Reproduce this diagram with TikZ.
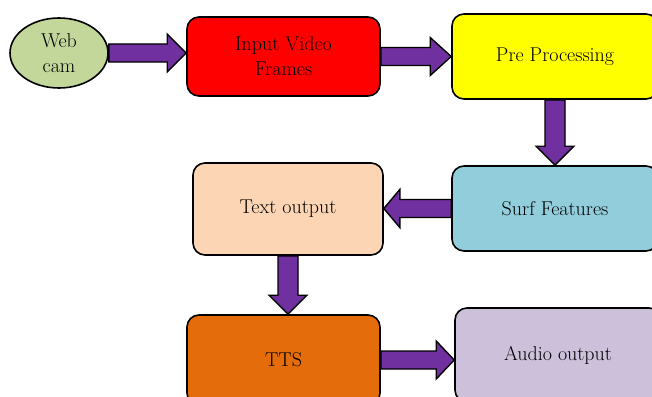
\documentclass[tikz,border=0pt]{standalone}
\usepackage{amsmath}
\usepackage{tikz}
\usetikzlibrary{shapes.geometric,backgrounds}

\definecolor{camgreen}{RGB}{196,215,155}
\definecolor{prered}{RGB}{255,0,0}
\definecolor{preyellow}{RGB}{255,255,0}
\definecolor{surfblue}{RGB}{146,205,220}
\definecolor{textpeach}{RGB}{252,213,180}
\definecolor{ttsorange}{RGB}{228,108,10}
\definecolor{audiolilac}{RGB}{204,192,218}
\definecolor{arrowpurple}{RGB}{112,48,160}

% horizontal block arrow: start, target anchor, signed head length
\newcommand{\harrow}[3]{%
  \coordinate (tip) at (#1 -| #2);
  \draw[bigarrow] ([yshift=9]#1) -- ([xshift=#3,yshift=9]tip) -- ([xshift=#3,yshift=19]tip) -- (tip)
    -- ([xshift=#3,yshift=-19]tip) -- ([xshift=#3,yshift=-9]tip) -- ([yshift=-9]#1) -- cycle;
}
% vertical block arrow (pointing down)
\newcommand{\varrow}[2]{%
  \coordinate (tip) at (#1 |- #2);
  \draw[bigarrow] ([xshift=-10]#1) -- ([xshift=-10,yshift=19]tip) -- ([xshift=-19,yshift=19]tip) -- (tip)
    -- ([xshift=19,yshift=19]tip) -- ([xshift=10,yshift=19]tip) -- ([xshift=10]#1) -- cycle;
}

\begin{document}
\begin{tikzpicture}[x=1pt,y=-1pt,
  block/.style={draw=black,line width=1.6pt,rounded corners=12pt,align=center,
    font=\fontsize{20}{25}\selectfont,text=black},
  bigarrow/.style={fill=arrowpurple,draw=black,line width=1.4pt,line join=miter}]
\useasboundingbox (0,0) rectangle (652,396);
% Draw the blocks
\node[block,ellipse,fill=camgreen,minimum width=98pt,minimum height=70pt,inner sep=0pt] (webcam) at (59,53) {Web\\cam};
\node[block,fill=prered,minimum width=193pt,minimum height=79pt] (input) at (283.5,56.5) {Input Video\\Frames};
\node[block,fill=preyellow,minimum width=206pt,minimum height=85pt] (pre) at (555,56.5) {Pre Processing};
\node[block,fill=surfblue,minimum width=206pt,minimum height=85pt] (surf) at (555,208.5) {Surf Features};
\node[block,fill=textpeach,minimum width=190pt,minimum height=92pt] (text) at (288,209) {Text output};
\node[block,fill=ttsorange,minimum width=193pt,minimum height=90pt] (tts) at (283.5,360) {TTS};
\node[block,fill=audiolilac,minimum width=206pt,minimum height=94pt] (audio) at (558,355) {Audio output};
% Draw the arrows behind the blocks
\begin{scope}[on background layer]
\harrow{webcam.east}{input.west}{-19}
\harrow{input.east}{pre.west}{-21}
\varrow{pre.south}{surf.north}
\harrow{surf.west}{text.east}{16}
\varrow{text.south}{tts.north}
\harrow{tts.east}{audio.west}{-18}
\end{scope}
\end{tikzpicture}
\end{document}
